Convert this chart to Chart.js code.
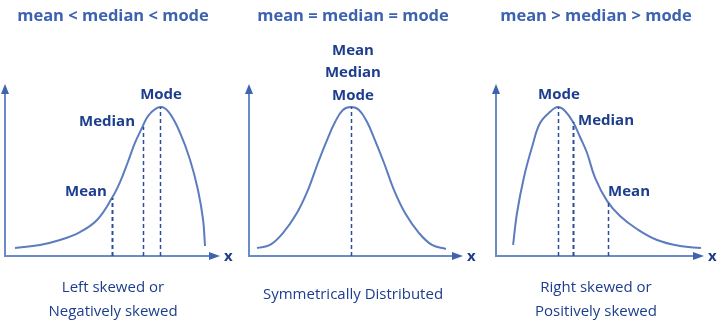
<!DOCTYPE html>
<html>
<head>
<meta charset="utf-8">
<script src="https://cdn.jsdelivr.net/npm/chart.js@4"></script>
<style>
body { margin: 0; background: #fff; width: 727px; height: 335px; overflow: hidden; position: relative; }
canvas { position: absolute; top: 0; }
</style>
</head>
<body>
<canvas id="c1" width="243" height="335" style="left:0"></canvas>
<canvas id="c2" width="243" height="335" style="left:243px"></canvas>
<canvas id="c3" width="243" height="335" style="left:484px"></canvas>
<script>
// curve values (x and density, both on a 0-10 scale)
var leftX = [0.47, 1.64, 2.58, 3.52, 4.32, 5.02, 5.40, 5.77, 6.10, 6.43, 6.75, 7.28, 7.70, 8.22, 8.69, 9.06, 9.30, 9.39];
var leftY = [0.47, 0.65, 0.94, 1.41, 2.12, 3.41, 4.35, 5.53, 6.65, 7.53, 8.29, 8.76, 8.45, 7.24, 5.65, 3.88, 2.12, 0.59];
var symX = [0.38, 0.99, 1.60, 2.26, 2.78, 3.25, 3.68, 4.06, 4.43, 4.81, 5.19, 5.57, 5.94, 6.37, 6.84, 7.36, 8.02, 8.63, 9.29];
var symY = [0.47, 0.65, 1.35, 2.53, 3.88, 5.47, 6.82, 7.88, 8.59, 8.76, 8.59, 7.88, 6.82, 5.47, 3.88, 2.53, 1.35, 0.65, 0.41];
var rightX = [0.83, 1.02, 1.36, 1.75, 2.14, 2.67, 3.01, 3.35, 3.74, 4.08, 4.42, 4.81, 5.39, 6.02, 6.84, 7.82, 8.93, 9.95];
var rightY = [0.65, 2.53, 4.65, 6.41, 7.82, 8.53, 8.76, 8.53, 7.88, 7.00, 6.06, 4.59, 3.24, 2.35, 1.59, 0.94, 0.59, 0.47];

// mean / median / mode positions
var markerNames = ['Mean', 'Median', 'Mode'];
var leftMarkX = [5.02, 6.48, 7.28];
var leftMarkY = [3.41, 7.60, 8.76];
var symMarkX = [4.81];
var symMarkY = [8.76];
var rightMarkX = [5.44, 3.74, 3.01];
var rightMarkY = [3.18, 7.88, 8.76];

var titles = ['mean < median < mode', 'mean = median = mode', 'mean > median > mode'];
var captions = [['Left skewed or', 'Negatively skewed'], ['Symmetrically Distributed'], ['Right skewed or', 'Positively skewed']];

var navy = '#1d3d8d';
var curveColor = '#5b7cbf';
var axisColor = '#6b8acb';

var decor = {
    id: 'decor',
    afterDraw: function (chart, args, o) {
        var c = chart.ctx, a = chart.chartArea;
        var xs = chart.scales.x, ys = chart.scales.y;
        c.save();
        // axes with arrows
        c.strokeStyle = axisColor;
        c.lineWidth = 2;
        c.beginPath();
        c.moveTo(a.left, a.top + 4);
        c.lineTo(a.left, a.bottom);
        c.lineTo(a.right - 4, a.bottom);
        c.stroke();
        c.fillStyle = '#3f63b0';
        c.beginPath();
        c.moveTo(a.left, a.top - 2); c.lineTo(a.left - 4, a.top + 8); c.lineTo(a.left + 4, a.top + 8);
        c.fill();
        c.beginPath();
        c.moveTo(a.right + 2, a.bottom); c.lineTo(a.right - 9, a.bottom - 4); c.lineTo(a.right - 9, a.bottom + 4);
        c.fill();
        c.fillStyle = navy;
        c.font = 'bold 15px "Open Sans"';
        c.textBaseline = 'middle';
        c.textAlign = 'left';
        c.fillText('x', a.right + 6, a.bottom + 1);

        // dashed marker lines
        c.strokeStyle = '#2c4d9e';
        c.setLineDash([4, 3]);
        o.markX.forEach(function (v, i) {
            var px = Math.round(xs.getPixelForValue(v)) + 0.5;
            c.lineWidth = o.dashW[i];
            c.beginPath();
            c.moveTo(px, ys.getPixelForValue(0));
            c.lineTo(px, ys.getPixelForValue(o.markY[i]));
            c.stroke();
        });
        c.setLineDash([]);

        // marker labels
        c.fillStyle = navy;
        c.font = 'bold 15px "Open Sans"';
        o.labels.forEach(function (l) {
            var i = l.m;
            c.textAlign = l.align;
            c.fillText(l.text, xs.getPixelForValue(o.markX[i]) + l.dx, ys.getPixelForValue(o.markY[i]) + l.dy);
        });

        // title and caption
        c.textAlign = 'center';
        c.fillStyle = '#3d62b0';
        c.font = 'bold 16.5px "Open Sans"';
        c.fillText(o.title, o.cx, 16);
        c.fillStyle = navy;
        c.font = '15px "Open Sans"';
        o.caption.forEach(function (t, i) {
            c.fillText(t, o.cx, o.capY + i * 24);
        });
        c.restore();
    }
};

function makeChart(id, xv, yv, pad, deco) {
    var pts = xv.map(function (v, i) { return { x: v, y: yv[i] }; });
    return new Chart(document.getElementById(id), {
        type: 'line',
        data: {
            datasets: [{
                data: pts,
                borderColor: curveColor,
                borderWidth: 2,
                pointRadius: 0,
                fill: false,
                tension: 0.4
            }]
        },
        options: {
            responsive: false,
            animation: false,
            devicePixelRatio: 1,
            layout: { padding: pad },
            plugins: { legend: { display: false }, tooltip: { enabled: false }, decor: deco },
            scales: {
                x: { type: 'linear', min: 0, max: 10, display: false },
                y: { min: 0, max: 10, display: false }
            }
        },
        plugins: [decor]
    });
}

makeChart('c1', leftX, leftY, { left: 5, right: 25, top: 86, bottom: 79 }, {
    markX: leftMarkX, markY: leftMarkY, dashW: [2, 1.5, 1.5],
    title: titles[0], caption: captions[0], cx: 113, capY: 288,
    labels: [
        { m: 0, text: markerNames[0], align: 'right', dx: -5, dy: -6 },
        { m: 1, text: markerNames[1], align: 'right', dx: -8, dy: -5 },
        { m: 2, text: markerNames[2], align: 'center', dx: 1, dy: -12 }
    ]
});
makeChart('c2', symX, symY, { left: 6, right: 25, top: 86, bottom: 79 }, {
    markX: symMarkX, markY: symMarkY, dashW: [1.5],
    title: titles[1], caption: captions[1], cx: 110, capY: 295,
    labels: [
        { m: 0, text: markerNames[0], align: 'center', dx: 2, dy: -56 },
        { m: 0, text: markerNames[1], align: 'center', dx: 2, dy: -34 },
        { m: 0, text: markerNames[2], align: 'center', dx: 2, dy: -11 }
    ]
});
makeChart('c3', rightX, rightY, { left: 12, right: 25, top: 86, bottom: 79 }, {
    markX: rightMarkX, markY: rightMarkY, dashW: [1.5, 2, 1.5],
    title: titles[2], caption: captions[2], cx: 112, capY: 288,
    labels: [
        { m: 0, text: markerNames[0], align: 'center', dx: 21, dy: -10 },
        { m: 1, text: markerNames[1], align: 'left', dx: 5, dy: -1 },
        { m: 2, text: markerNames[2], align: 'center', dx: 1, dy: -12 }
    ]
});
</script>
</body>
</html>
